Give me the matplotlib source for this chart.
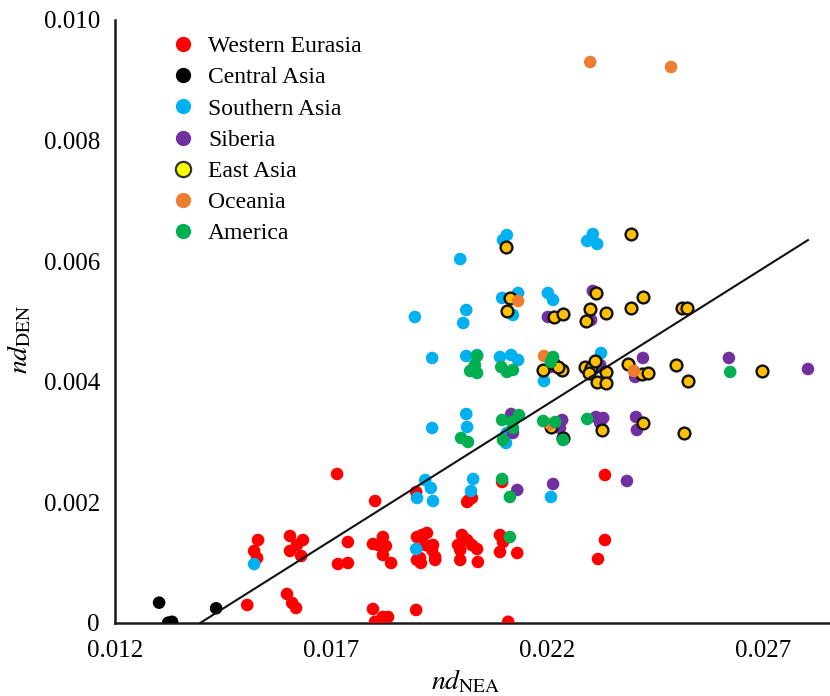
import matplotlib
matplotlib.use("Agg")
import matplotlib.pyplot as plt
from matplotlib.lines import Line2D

plt.rcParams['font.family'] = 'Liberation Serif'
plt.rcParams['mathtext.fontset'] = 'stix'

# nd_NEA / nd_DEN per population group
west_eurasia_x = [0.01531, 0.01522, 0.01529, 0.01506, 0.01605, 0.01635, 0.01621, 0.01605,
                  0.01631, 0.01598, 0.01610, 0.01619, 0.01714, 0.01739, 0.01716, 0.01739,
                  0.01802, 0.01820, 0.01797, 0.01827, 0.01820, 0.01839, 0.01809, 0.01797,
                  0.01820, 0.01832, 0.01802, 0.01897, 0.01897, 0.01899, 0.01911, 0.01922,
                  0.01936, 0.01934, 0.01941, 0.01906, 0.01899, 0.01908, 0.01941, 0.01918,
                  0.02019, 0.02026, 0.02015, 0.02003, 0.02015, 0.01994, 0.02026, 0.02038,
                  0.01999, 0.01999, 0.02040, 0.02096, 0.02091, 0.02098, 0.02091, 0.02131,
                  0.02110, 0.02334, 0.02334, 0.02318]
west_eurasia_y = [0.001376, 0.001194, 0.001078, 0.000299, 0.001443, 0.001376, 0.001294, 0.001194,
                  0.001111, 0.000481, 0.000332, 0.000249, 0.002471, 0.001343, 0.000978, 0.000995,
                  0.002023, 0.001426, 0.001310, 0.001277, 0.001128, 0.000995, 0.001294, 0.000232,
                  0.000100, 0.000100, 0.000020, 0.002172, 0.000216, 0.001426, 0.001459, 0.001493,
                  0.001294, 0.001211, 0.001095, 0.001078, 0.001045, 0.000995, 0.001045, 0.001294,
                  0.002040, 0.002073, 0.002007, 0.001459, 0.001376, 0.001294, 0.001294, 0.001227,
                  0.001211, 0.001045, 0.001012, 0.002338, 0.001459, 0.001343, 0.001177, 0.001161,
                  0.000020, 0.002454, 0.001376, 0.001061]

central_asia_x = [0.01302, 0.01323, 0.01332, 0.01434]
central_asia_y = [0.000337, 0.000005, 0.000020, 0.000244]

south_asia_x = [0.01522, 0.01918, 0.01931, 0.01899, 0.01936, 0.01897, 0.02029, 0.02024,
                0.02209, 0.01934, 0.02013, 0.02015, 0.02105, 0.02193, 0.01999, 0.02107,
                0.02098, 0.02293, 0.02306, 0.02316, 0.01894, 0.02013, 0.02006, 0.02133,
                0.02096, 0.02121, 0.02202, 0.02214, 0.01934, 0.02013, 0.02038, 0.02091,
                0.02117, 0.02133, 0.02325, 0.02107]
south_asia_y = [0.000978, 0.002371, 0.002239, 0.002073, 0.002023, 0.001227, 0.002388, 0.002189,
                0.002090, 0.003234, 0.003466, 0.003250, 0.002985, 0.004013, 0.006036, 0.006434,
                0.006352, 0.006335, 0.006451, 0.006285, 0.005075, 0.005191, 0.004975, 0.005473,
                0.005390, 0.005108, 0.005473, 0.005357, 0.004395, 0.004428, 0.004444, 0.004411,
                0.004444, 0.004362, 0.004478, 0.003151]

siberia_x = [0.02131, 0.02214, 0.02385, 0.02117, 0.02121, 0.02235, 0.02230, 0.02313,
             0.02330, 0.02323, 0.02406, 0.02408, 0.02306, 0.02302, 0.02202, 0.02422,
             0.02404, 0.02621, 0.02804, 0.02207, 0.02323]
siberia_y = [0.002206, 0.002305, 0.002355, 0.003466, 0.003151, 0.003367, 0.003234, 0.003416,
             0.003400, 0.003317, 0.003416, 0.003201, 0.005506, 0.005025, 0.005075, 0.004395,
             0.004080, 0.004395, 0.004212, 0.004245, 0.004279]

east_asia_x = [0.02105, 0.02394, 0.02114, 0.02107, 0.02216, 0.02237, 0.02290, 0.02300,
               0.02313, 0.02337, 0.02394, 0.02422, 0.02512, 0.02524, 0.02191, 0.02214,
               0.02235, 0.02226, 0.02288, 0.02302, 0.02311, 0.02297, 0.02337, 0.02316,
               0.02337, 0.02387, 0.02420, 0.02434, 0.02499, 0.02526, 0.02698, 0.02209,
               0.02327, 0.02422, 0.02517, 0.02237]
east_asia_y = [0.006235, 0.006451, 0.005390, 0.005174, 0.005075, 0.005124, 0.005008, 0.005207,
               0.005473, 0.005141, 0.005224, 0.005406, 0.005224, 0.005224, 0.004196, 0.004312,
               0.004196, 0.004245, 0.004245, 0.004229, 0.004345, 0.004146, 0.004163, 0.003997,
               0.003980, 0.004295, 0.004129, 0.004146, 0.004279, 0.004013, 0.004179, 0.003250,
               0.003201, 0.003317, 0.003151, 0.003068]

oceania_x = [0.02300, 0.02487, 0.02133, 0.02193, 0.02401, 0.02207]
oceania_y = [0.009303, 0.009220, 0.005340, 0.004428, 0.004179, 0.003300]

america_x = [0.02038, 0.02033, 0.02022, 0.02038, 0.02094, 0.02107, 0.02121, 0.02214,
             0.02209, 0.02624, 0.02096, 0.02119, 0.02135, 0.02121, 0.02098, 0.02001,
             0.02017, 0.02191, 0.02219, 0.02237, 0.02293, 0.02096, 0.02114, 0.02114]
america_y = [0.004428, 0.004279, 0.004179, 0.004146, 0.004245, 0.004163, 0.004196, 0.004411,
             0.004328, 0.004163, 0.003367, 0.003333, 0.003449, 0.003234, 0.003035, 0.003068,
             0.003002, 0.003350, 0.003333, 0.003035, 0.003383, 0.002388, 0.002090, 0.001426]

# linear fit drawn across the data
fit_slope = 0.4513
fit_x0 = 0.01397
fit_x_end = 0.02804

fig = plt.figure(figsize=(8.3, 6.96), dpi=100)
ax = fig.add_axes([0.1386, 0.1049, 0.8614, 0.8664])

groups = [
    ("Western Eurasia", west_eurasia_x, west_eurasia_y, "#FF0000", "none"),
    ("Central Asia", central_asia_x, central_asia_y, "#000000", "none"),
    ("Southern Asia", south_asia_x, south_asia_y, "#00B0F0", "none"),
    ("Siberia", siberia_x, siberia_y, "#7030A0", "none"),
    ("East Asia", east_asia_x, east_asia_y, "#FFC000", "#111111"),
    ("Oceania", oceania_x, oceania_y, "#ED7D31", "none"),
    ("America", america_x, america_y, "#00B050", "none"),
]

for name, xs, ys, color, edge in groups:
    if edge == "none":
        ax.scatter(xs, ys, s=82, c=color, edgecolors="none", zorder=3)
    else:
        ax.scatter(xs, ys, s=72, c=color, edgecolors=edge, linewidths=1.7, zorder=3)

ax.plot([fit_x0, fit_x_end], [0, fit_slope * (fit_x_end - fit_x0)],
        color="#111111", lw=1.5, zorder=4)

ax.set_xlim(0.012, 0.02855)
ax.set_ylim(0, 0.010)
ax.set_xticks([0.012, 0.017, 0.022, 0.027])
ax.set_xticklabels(["0.012", "0.017", "0.022", "0.027"])
ax.set_yticks([0, 0.002, 0.004, 0.006, 0.008, 0.010])
ax.set_yticklabels(["0", "0.002", "0.004", "0.006", "0.008", "0.010"])
ax.tick_params(length=0, labelsize=18)
ax.tick_params(axis='y', pad=11)
ax.tick_params(axis='x', pad=12)

for side in ["top", "right"]:
    ax.spines[side].set_visible(False)
for side in ["left", "bottom"]:
    ax.spines[side].set_linewidth(1.8)
    ax.spines[side].set_color("#1a1a1a")

ax.set_xlabel(r"$\mathit{nd}_{\mathrm{NEA}}$", fontsize=20)
ax.set_ylabel(r"$\mathit{nd}_{\mathrm{DEN}}$", fontsize=20)
ax.xaxis.set_label_coords(0.49, -0.075)
ax.yaxis.set_label_coords(-0.114, 0.47)

legend_colors = ["#FF0000", "#000000", "#00B0F0", "#7030A0", "#FFFF00", "#ED7D31", "#00B050"]
handles = []
for (name, _, _, _, edge), color in zip(groups, legend_colors):
    handles.append(Line2D([], [], ls="none", marker="o", markersize=11,
                          markerfacecolor=color,
                          markeredgecolor="#333333" if edge != "none" else color,
                          markeredgewidth=1.6 if edge != "none" else 0,
                          label=name))
ax.legend(handles=handles, loc="upper left", bbox_to_anchor=(0.079, 0.974),
          frameon=False, fontsize=17, labelspacing=0.41, handlelength=1.0,
          handletextpad=0.55, borderaxespad=0, borderpad=0)

fig.savefig("out.png", dpi=100)
